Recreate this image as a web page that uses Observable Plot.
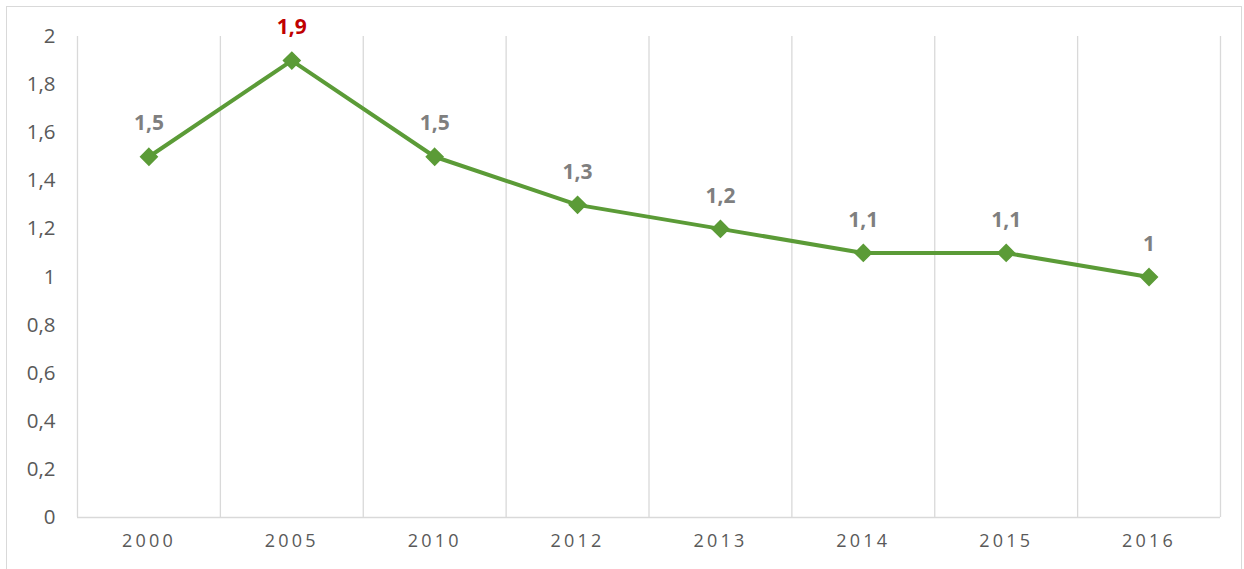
<!DOCTYPE html>
<html><head><meta charset="utf-8">
<script src="https://cdn.jsdelivr.net/npm/d3@7"></script>
<script src="https://cdn.jsdelivr.net/npm/@observablehq/plot@0.6"></script>
<style>
body{margin:0;background:#fff;}
#wrap{position:relative;width:1244px;height:569px;overflow:hidden;}
#border{position:absolute;left:6px;top:6px;width:1236px;height:600px;border:1px solid #d9d9d9;box-sizing:border-box;pointer-events:none;}
</style>
</head><body>
<div id="wrap"><div id="border"></div></div>
<script>
const years = ["2000","2005","2010","2012","2013","2014","2015","2016"];
const values = [1.5, 1.9, 1.5, 1.3, 1.2, 1.1, 1.1, 1.0];
const labels = ["1,5","1,9","1,5","1,3","1,2","1,1","1,1","1"];
const yTicks = [0,0.2,0.4,0.6,0.8,1,1.2,1.4,1.6,1.8,2];

const data = years.map((y,i)=>({i, year:y, v:values[i], label:labels[i]}));
const edges = d3.range(-0.5, years.length, 1);
const fmt = d => String(d).replace(".", ",");

const chart = Plot.plot({
  width:1244, height:569,
  marginLeft:77, marginRight:24, marginTop:36, marginBottom:52,
  style:{fontFamily:"'Open Sans', sans-serif", background:"transparent"},
  x:{domain:[-0.5, years.length-0.5], ticks:d3.range(years.length), tickFormat:i=>years[i], tickSize:0, tickPadding:17, label:null},
  y:{domain:[0,2], ticks:yTicks, tickFormat:fmt, tickSize:0, tickPadding:22, label:null},
  marks:[
    Plot.ruleX(edges, {x:d=>d, y1:0, y2:2, stroke:"#d9d9d9", strokeWidth:1.3}),
    Plot.ruleY([0], {stroke:"#d9d9d9", strokeWidth:1.3}),
    Plot.line(data, {x:"i", y:"v", stroke:"#5b9b37", strokeWidth:4}),
    Plot.dot(data, {x:"i", y:"v", symbol:"diamond2", r:7.5, fill:"#5b9b37", stroke:"#5b9b37"}),
    Plot.text(data, {x:"i", y:"v", text:"label", dy:-33, fontSize:21, fontWeight:"bold", fill:d=>d.v===1.9?"#c00000":"#7f7f7f"})
  ]
});
chart.querySelectorAll('[aria-label="x-axis tick label"] text').forEach(t=>{t.style.fontSize="18px";t.style.letterSpacing="3.2px";t.style.fill="#595959";});
chart.querySelectorAll('[aria-label="y-axis tick label"] text').forEach(t=>{t.style.fontSize="20.5px";t.style.fill="#595959";});
chart.style.position="absolute"; chart.style.left="0"; chart.style.top="0";
document.getElementById("wrap").appendChild(chart);
</script>
</body></html>
